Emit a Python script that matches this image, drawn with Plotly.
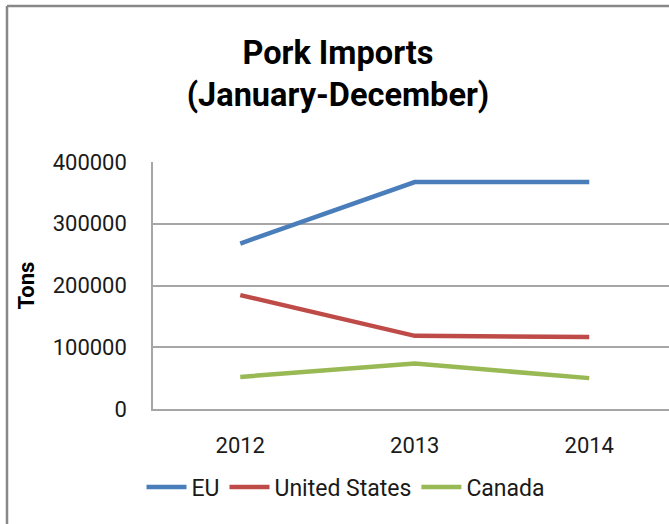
import plotly.graph_objects as go

years = ["2012", "2013", "2014"]
eu = [268000, 367500, 367500]
united_states = [184500, 118500, 116500]
canada = [52000, 73500, 50000]
y_ticks = [0, 100000, 200000, 300000, 400000]

series = [
    ("EU", eu, "#4A7EBB"),
    ("United States", united_states, "#BE4B48"),
    ("Canada", canada, "#98B954"),
]

FONT = "Roboto"
fig = go.Figure()
for name, vals, color in series:
    fig.add_trace(go.Scatter(x=years, y=vals, name=name, mode="lines",
                             line=dict(color=color, width=4.5)))

W, H = 669, 524
L, R, T, B = 153, 0, 162, 115
pw = W - L - R
ph = H - T - B

fig.update_layout(
    width=W, height=H,
    margin=dict(l=L, r=R, t=T, b=B),
    paper_bgcolor="white", plot_bgcolor="white",
    font=dict(family=FONT, color="#1a1a1a", size=22),
    showlegend=True,
    legend=dict(orientation="h", x=(346 - L) / pw, xanchor="center",
                y=(409 - 487) / ph, yanchor="middle",
                font=dict(size=23, family=FONT), itemwidth=40,
                bgcolor="rgba(0,0,0,0)"),
    title=dict(text="<b>Pork Imports</b><br><b>(January-December)</b>",
               x=338 / W, xanchor="center", xref="container",
               y=1 - 64 / H, yanchor="top", yref="container",
               font=dict(size=32.5, family=FONT, color="#000000")),
    xaxis=dict(type="category", range=[-0.5, -0.5 + pw / 174.5],
               showgrid=False, showline=True, linecolor="#A6A6A6", linewidth=1.5,
               ticks="", ticklabelstandoff=16, tickfont=dict(size=22),
               zeroline=False),
    yaxis=dict(range=[0, 400000], tickvals=y_ticks, tickformat="d",
               showgrid=True, gridcolor="#A6A6A6", gridwidth=1.5,
               showline=True, linecolor="#A6A6A6", linewidth=1.5,
               ticks="", ticklabelstandoff=20, tickfont=dict(size=22),
               zeroline=False,
               title=dict(text="<b>Tons</b>", font=dict(size=22, family=FONT, color="#000000"),
                          standoff=12)),
)

# outer chart-area border (left and top visible in the crop)
fig.add_shape(type="line", xref="paper", yref="paper",
              x0=(7 - L) / pw, x1=(W + 5 - L) / pw,
              y0=(409 - 6) / ph, y1=(409 - 6) / ph,
              line=dict(color="#888888", width=2.5))
fig.add_shape(type="line", xref="paper", yref="paper",
              x0=(7 - L) / pw, x1=(7 - L) / pw,
              y0=(409 - 6) / ph, y1=(409 - H - 5) / ph,
              line=dict(color="#888888", width=2.5))

fig.write_html("out.html", config={"displayModeBar": False},
               post_script="document.body.style.margin='0px';document.body.style.overflow='hidden';")
